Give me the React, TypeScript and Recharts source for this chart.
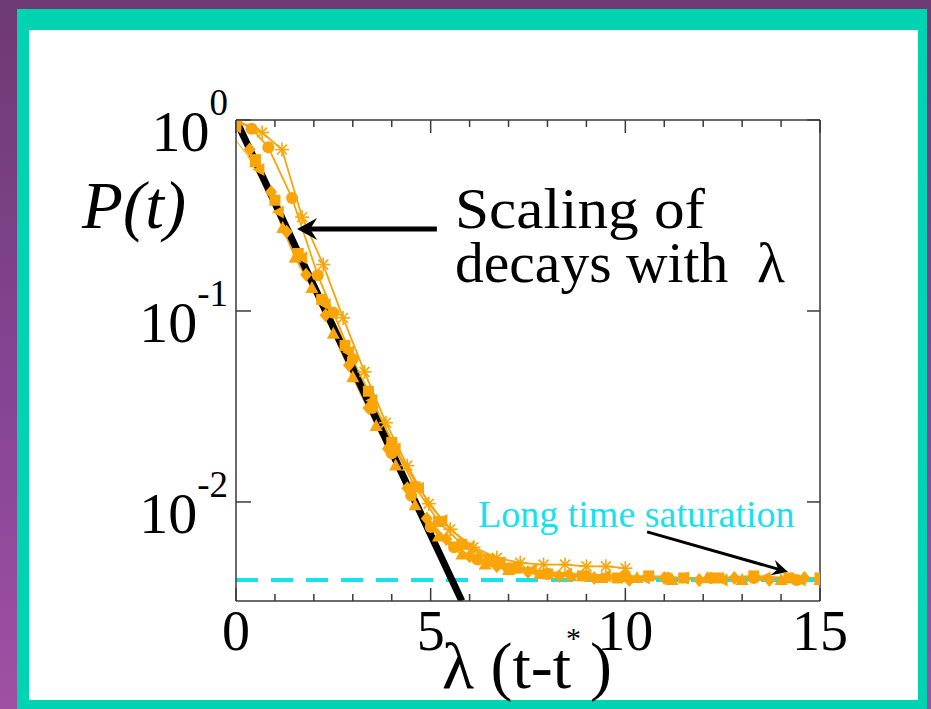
import React from 'react';
import { LineChart, Line, XAxis, YAxis, ReferenceLine } from 'recharts';

// ---------- data ----------
const starX = [0, 0.67, 1.18, 1.7, 2.24, 2.75, 3.3, 3.85, 4.4, 4.95, 5.5, 6.1, 6.7, 7.3, 7.9, 8.45, 9.0, 9.5, 10.0];
const starY = [1.0, 0.86, 0.7, 0.31, 0.175, 0.092, 0.048, 0.026, 0.0155, 0.0098, 0.0072, 0.0058, 0.0051, 0.0048, 0.0047, 0.0047, 0.0046, 0.0046, 0.0045];

const circleX = [0, 0.4, 0.83, 1.44, 2.1, 2.5, 3.0, 3.5, 4.0, 4.5, 5.0, 5.6, 6.2, 7.0, 8.0, 9.0, 10.0, 11.1, 12.2, 13.3, 14.4];
const circleY = [1.0, 0.9, 0.72, 0.39, 0.154, 0.098, 0.056, 0.031, 0.018, 0.0108, 0.0074, 0.0058, 0.005, 0.0045, 0.0042, 0.0041, 0.0041, 0.004, 0.004, 0.004, 0.0039];

const triX = [0, 0.5, 1.2, 1.52, 1.95, 2.5, 3.0, 3.6, 4.1, 4.6, 5.2, 5.8, 6.4, 7.0, 7.8, 8.6, 9.4, 10.3, 11.2, 12.1, 13.0, 14.0, 15.0];
const triY = [1.0, 0.6, 0.272, 0.19, 0.132, 0.076, 0.045, 0.025, 0.0155, 0.0096, 0.0066, 0.0053, 0.0047, 0.0044, 0.0042, 0.0041, 0.004, 0.004, 0.0039, 0.004, 0.0039, 0.0039, 0.0039];

const squareX = [0, 0.5, 1.0, 1.6, 2.2, 2.8, 3.4, 4.0, 4.6, 5.2, 5.8, 6.5, 7.2, 8.0, 8.9, 9.8, 10.6, 11.5, 12.4, 13.3, 14.2, 15.0];
const squareY = [0.95, 0.62, 0.38, 0.2, 0.115, 0.066, 0.038, 0.0205, 0.012, 0.0079, 0.006, 0.005, 0.0045, 0.0042, 0.0041, 0.004, 0.0041, 0.004, 0.004, 0.0041, 0.004, 0.004];

const diamondX = [0, 0.35, 0.9, 1.3, 1.8, 2.3, 2.9, 3.4, 3.9, 4.4, 4.9, 5.4, 6.0, 6.7, 7.5, 8.3, 9.2, 10.1, 11.0, 11.9, 12.8, 13.7, 14.6];
const diamondY = [0.98, 0.7, 0.42, 0.26, 0.155, 0.095, 0.052, 0.031, 0.019, 0.0118, 0.0082, 0.0064, 0.0052, 0.0046, 0.0043, 0.0041, 0.004, 0.0039, 0.004, 0.0039, 0.004, 0.0039, 0.004];

const leftTriX = [0, 0.6, 1.1, 1.7, 2.3, 2.9, 3.5, 4.1, 4.7, 5.3, 6.0, 6.8, 7.6, 8.5, 9.5, 10.5, 11.5, 12.5, 13.6, 14.5, 15.0];
const leftTriY = [0.92, 0.55, 0.33, 0.19, 0.108, 0.061, 0.034, 0.019, 0.0118, 0.008, 0.0058, 0.0048, 0.0044, 0.0042, 0.0041, 0.004, 0.004, 0.0039, 0.004, 0.0039, 0.0039];

const thinX = [0, 0.3, 0.6, 1.0, 1.5, 2.0, 2.5, 3.0, 4.0, 5.0, 6.0, 7.0, 8.0, 10.0, 12.0, 15.0];
const thinY = [0.78, 0.65, 0.5, 0.34, 0.21, 0.13, 0.08, 0.048, 0.018, 0.0075, 0.0052, 0.0046, 0.0043, 0.0041, 0.004, 0.004];

const fitX = [0, 5.8];
const fitY = [1, 0.00303];

const saturationLevel = 0.0039;
const xDomain = [0, 15];
const yDomain = [0.00303, 1];
const xTicks = [0, 1, 2, 3, 4, 5, 6, 7, 8, 9, 10, 11, 12, 13, 14, 15];
const xLabelTicks = [0, 5, 10, 15];
const yTicks = [1, 0.1, 0.01];
const yTickExponents = ['0', '-1', '-2'];

const arrowScaling = [{ x: 5.16, y: 0.2687 }, { x: 1.57, y: 0.2687 }];
const arrowSaturation = [{ x: 10.56, y: 0.00697 }, { x: 14.18, y: 0.0043 }];

// ---------- styles ----------
const ORANGE = '#f9a50a';
const CYAN = '#16e2ee';
const AXIS = '#3a3a3a';
const SERIF = '"Liberation Serif", "DejaVu Serif", serif';

const zip = (xs: number[], ys: number[]) => xs.map((x, i) => ({ x, y: ys[i] }));

const makeDot = (shape: string) => (props: any) => {
  const { cx, cy, index } = props;
  if (cx == null || cy == null || isNaN(cx) || isNaN(cy)) return <g key={`e${index}`} />;
  const k = `${shape}${index}`;
  switch (shape) {
    case 'star': {
      const r = 7;
      const d = r * 0.7071;
      return (
        <g key={k} stroke={ORANGE} strokeWidth={1.6}>
          <line x1={cx - r} y1={cy} x2={cx + r} y2={cy} />
          <line x1={cx} y1={cy - r} x2={cx} y2={cy + r} />
          <line x1={cx - d} y1={cy - d} x2={cx + d} y2={cy + d} />
          <line x1={cx - d} y1={cy + d} x2={cx + d} y2={cy - d} />
        </g>
      );
    }
    case 'circle':
      return <circle key={k} cx={cx} cy={cy} r={6} fill={ORANGE} />;
    case 'tri':
      return <polygon key={k} points={`${cx},${cy - 7} ${cx - 6.5},${cy + 5} ${cx + 6.5},${cy + 5}`} fill={ORANGE} />;
    case 'square':
      return <rect key={k} x={cx - 5.5} y={cy - 5.5} width={11} height={11} fill={ORANGE} />;
    case 'diamond':
      return <polygon key={k} points={`${cx},${cy - 7} ${cx + 6},${cy} ${cx},${cy + 7} ${cx - 6},${cy}`} fill={ORANGE} />;
    case 'left':
      return <polygon key={k} points={`${cx - 7},${cy} ${cx + 5},${cy - 6.5} ${cx + 5},${cy + 6.5}`} fill={ORANGE} />;
    default:
      return <g key={k} />;
  }
};

const BottomTick = (props: any) => {
  const { x, y, payload } = props;
  const v = payload.value;
  const major = xLabelTicks.includes(v);
  return (
    <g>
      <line x1={x} x2={x} y1={y} y2={y - (major ? 13 : 7)} stroke={AXIS} strokeWidth={1.5} />
      {major && (
        <text x={x} y={y + 49} textAnchor="middle" fontSize={56} fontFamily={SERIF} fill="#000">
          {v}
        </text>
      )}
    </g>
  );
};

const TopTick = (props: any) => {
  const { x, y, payload } = props;
  const major = xLabelTicks.includes(payload.value);
  return <line x1={x} x2={x} y1={y} y2={y + (major ? 13 : 7)} stroke={AXIS} strokeWidth={1.5} />;
};

const LeftTick = (props: any) => {
  const { x, y, payload } = props;
  const idx = yTicks.indexOf(payload.value);
  return (
    <g>
      <line x1={x} x2={x + 15} y1={y} y2={y} stroke={AXIS} strokeWidth={1.5} />
      <text x={x - 8} y={y + 31} textAnchor="end" fontFamily={SERIF} fill="#000">
        <tspan fontSize={58}>10</tspan>
        <tspan fontSize={37} dy={-36}>{yTickExponents[idx]}</tspan>
      </text>
    </g>
  );
};

const RightTick = (props: any) => {
  const { x, y } = props;
  return <line x1={x} x2={x - 13} y1={y} y2={y} stroke={AXIS} strokeWidth={1.5} />;
};

const makeArrow = (headLen: number, headHalf: number, width: number) => (props: any) => {
  const { x1, y1, x2, y2 } = props;
  if ([x1, y1, x2, y2].some((v) => v == null || isNaN(v))) return <g />;
  const dx = x2 - x1;
  const dy = y2 - y1;
  const L = Math.hypot(dx, dy) || 1;
  const ux = dx / L;
  const uy = dy / L;
  const px = -uy;
  const py = ux;
  const bx = x2 - ux * headLen;
  const by = y2 - uy * headLen;
  const nx = x2 - ux * headLen * 0.65;
  const ny = y2 - uy * headLen * 0.65;
  return (
    <g>
      <line x1={x1} y1={y1} x2={nx} y2={ny} stroke="#000" strokeWidth={width} />
      <polygon
        points={`${x2},${y2} ${bx + px * headHalf},${by + py * headHalf} ${nx},${ny} ${bx - px * headHalf},${by - py * headHalf}`}
        fill="#000"
      />
    </g>
  );
};

const series = [
  { name: 'thin', data: zip(thinX, thinY), dot: false as any, width: 1 },
  { name: 'left', data: zip(leftTriX, leftTriY), dot: makeDot('left'), width: 1.8 },
  { name: 'diamond', data: zip(diamondX, diamondY), dot: makeDot('diamond'), width: 1.8 },
  { name: 'square', data: zip(squareX, squareY), dot: makeDot('square'), width: 1.8 },
  { name: 'tri', data: zip(triX, triY), dot: makeDot('tri'), width: 1.8 },
  { name: 'circle', data: zip(circleX, circleY), dot: makeDot('circle'), width: 1.8 },
  { name: 'star', data: zip(starX, starY), dot: makeDot('star'), width: 1.8 },
];

export default function App() {
  return (
    <div
      style={{
        position: 'fixed',
        left: 0,
        top: 0,
        width: 931,
        height: 709,
        overflow: 'hidden',
        background: 'linear-gradient(to bottom, #6e3a72 0%, #884696 60%, #a050a1 100%)',
      }}
    >
      <div style={{ position: 'absolute', left: 17, top: 9, width: 910, height: 710, background: '#00d3b1' }} />
      <div style={{ position: 'absolute', left: 29, top: 30, width: 889, height: 670, background: '#ffffff' }} />
      <div style={{ position: 'absolute', left: 0, top: 0 }}>
        <LineChart width={931} height={709} margin={{ top: 100, right: 91, bottom: 48, left: 116 }}>
          <XAxis
            dataKey="x"
            type="number"
            domain={xDomain}
            ticks={xTicks}
            interval={0}
            allowDataOverflow
            tickSize={0}
            tickMargin={0}
            tickLine={false}
            tick={<BottomTick />}
            height={60}
            axisLine={{ stroke: AXIS, strokeWidth: 1.5 }}
          />
          <XAxis
            xAxisId="top"
            orientation="top"
            dataKey="x"
            type="number"
            domain={xDomain}
            ticks={xTicks}
            interval={0}
            allowDataOverflow
            tickSize={0}
            tickMargin={0}
            tickLine={false}
            tick={<TopTick />}
            height={20}
            axisLine={{ stroke: AXIS, strokeWidth: 1.5 }}
          />
          <YAxis
            dataKey="y"
            type="number"
            scale="log"
            domain={yDomain}
            ticks={yTicks}
            interval={0}
            allowDataOverflow
            tickSize={0}
            tickMargin={0}
            tickLine={false}
            tick={<LeftTick />}
            width={120}
            axisLine={{ stroke: AXIS, strokeWidth: 1.5 }}
          />
          <YAxis
            yAxisId="right"
            orientation="right"
            type="number"
            scale="log"
            domain={yDomain}
            ticks={yTicks}
            interval={0}
            allowDataOverflow
            tickSize={0}
            tickMargin={0}
            tickLine={false}
            tick={<RightTick />}
            width={20}
            axisLine={{ stroke: AXIS, strokeWidth: 1.5 }}
          />
          {series.map((s) => (
            <Line
              key={s.name}
              data={s.data}
              dataKey="y"
              type="linear"
              stroke={ORANGE}
              strokeWidth={s.width}
              dot={s.dot}
              activeDot={false}
              isAnimationActive={false}
            />
          ))}
          <ReferenceLine y={saturationLevel} stroke={CYAN} strokeWidth={4} strokeDasharray="22 13" />
          <Line
            data={zip(fitX, fitY)}
            dataKey="y"
            type="linear"
            stroke="#000"
            strokeWidth={7}
            dot={false}
            activeDot={false}
            isAnimationActive={false}
          />
          <ReferenceLine segment={arrowScaling} shape={makeArrow(20, 11, 5)} ifOverflow="visible" />
          <ReferenceLine segment={arrowSaturation} shape={makeArrow(16, 8, 3)} ifOverflow="visible" />
        </LineChart>
      </div>
      <svg
        width={931}
        height={709}
        style={{ position: 'absolute', left: 0, top: 0, pointerEvents: 'none' }}
      >
        <text x={82} y={228} fontSize={67} fontStyle="italic" fontFamily={SERIF} fill="#000">
          P(t)
        </text>
        <text x={455} y={228} fontSize={56} fontFamily={SERIF} fill="#000" textLength={250} lengthAdjust="spacingAndGlyphs">
          Scaling of
        </text>
        <text x={455} y={282} fontSize={56} fontFamily={SERIF} fill="#000" xmlSpace="preserve" textLength={330} lengthAdjust="spacingAndGlyphs">
          decays with  λ
        </text>
        <text x={478} y={527} fontSize={38} fontFamily={SERIF} fill={CYAN}>
          Long time saturation
        </text>
        <text x={442} y={688} fontSize={66} fontFamily={SERIF} fill="#000">
          λ (t-t
        </text>
        <text x={566} y={648} fontSize={30} fontFamily={SERIF} fill="#000">
          *
        </text>
        <text x={590} y={688} fontSize={66} fontFamily={SERIF} fill="#000">
          )
        </text>
      </svg>
    </div>
  );
}
